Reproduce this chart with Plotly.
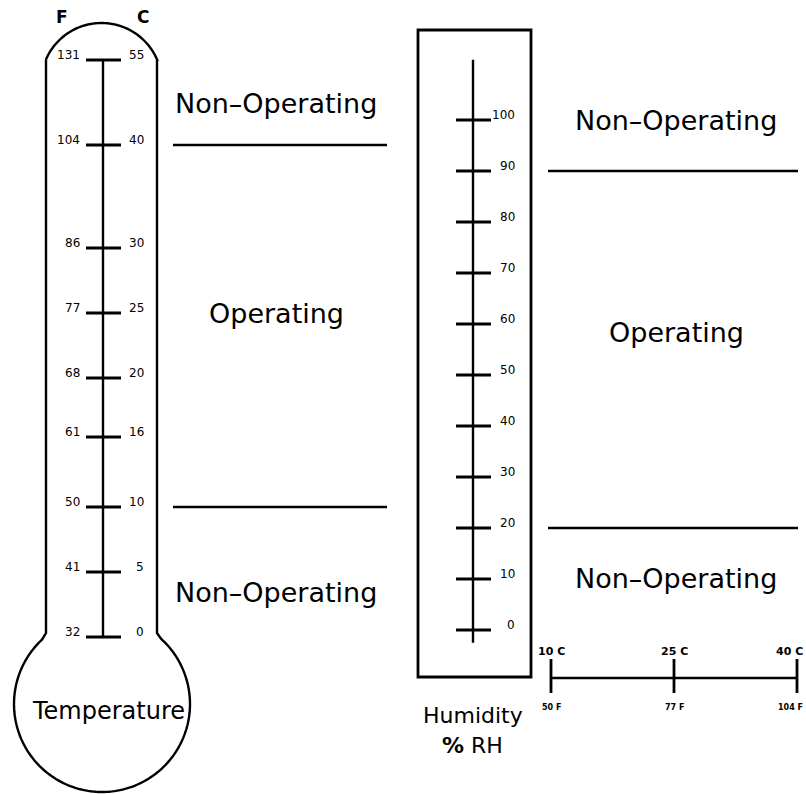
import numpy as np
import plotly.graph_objects as go

# ---------------- data ----------------
temp_c = [0, 5, 10, 16, 20, 25, 30, 40, 55]
temp_f = [32, 41, 50, 61, 68, 77, 86, 104, 131]
humidity_ticks = [0, 10, 20, 30, 40, 50, 60, 70, 80, 90, 100]
temp_operating_c = [10, 40]          # operating temperature limits (C)
humidity_operating = [20, 90]        # operating humidity limits (% RH)
range_c = [10, 25, 40]               # bottom temperature scale (C)
range_f = [50, 77, 104]              # bottom temperature scale (F)
zone_labels = ["Non\u2013Operating", "Operating", "Non\u2013Operating"]

# ---------------- drawing layout (pixels) ----------------
W, H = 806, 794
THERM_MARK_PX = [637, 572, 507, 437, 378, 313, 248, 145, 60]  # thermometer is not to scale
THERM_STEM_X = 103
TUBE_L, TUBE_R = 46, 157
FONT = "DejaVu Sans"
LW = 2.4

def therm_y(c):
    return THERM_MARK_PX[temp_c.index(c)]

# humidity axis (y2): 0 % -> 630 px, 100 % -> 120 px
h_per_px = 100 / (630 - 120)
y2_range = [0 - (H - 630) * h_per_px, 100 + 120 * h_per_px]
# bottom temperature scale axis (x2): 10 C -> 551 px, 40 C -> 797 px
c_per_px = 30 / (797 - 551)
x2_range = [10 - 551 * c_per_px, 40 + (W - 797) * c_per_px]

fig = go.Figure()

# ---------- thermometer outline ----------
cx_t, cy_t, r_t = 101.5, 83.5, 60.5
t_top = np.radians(np.linspace(157.1, 22.9, 60))
cx_b, cy_b, r_b = 102, 704, 88
t_bulb = np.radians(np.linspace(47.9, -227.0, 160))
pts = [(cx_t + r_t * np.cos(t), cy_t - r_t * np.sin(t)) for t in t_top]
pts += [(TUBE_R, 60), (TUBE_R, 633)]
pts += [(cx_b + r_b * np.cos(t), cy_b - r_b * np.sin(t)) for t in t_bulb]
pts += [(TUBE_L, 633), (TUBE_L, 60)]
path = "M " + " L ".join(f"{x:.2f},{y:.2f}" for x, y in pts)
fig.add_shape(type="path", path=path, xref="x", yref="y",
              line=dict(color="black", width=LW))

# thermometer stem
fig.add_trace(go.Scatter(x=[THERM_STEM_X, THERM_STEM_X],
                         y=[therm_y(max(temp_c)), therm_y(min(temp_c))],
                         mode="lines", line=dict(color="black", width=LW),
                         hoverinfo="skip"))
# thermometer marks
tx, ty = [], []
for c in temp_c:
    tx += [86, 121, None]
    ty += [therm_y(c), therm_y(c), None]
fig.add_trace(go.Scatter(x=tx, y=ty, mode="lines",
                         line=dict(color="black", width=2.8), hoverinfo="skip"))

annotations = []
for c, f in zip(temp_c, temp_f):
    annotations.append(dict(x=82, y=therm_y(c), xref="x", yref="y", text=str(f),
                            xanchor="right", yanchor="middle", yshift=5,
                            showarrow=False, font=dict(size=12, family=FONT, color="black")))
    annotations.append(dict(x=146, y=therm_y(c), xref="x", yref="y", text=str(c),
                            xanchor="right", yanchor="middle", yshift=5,
                            showarrow=False, font=dict(size=12, family=FONT, color="black")))

annotations.append(dict(x=62, y=17, xref="x", yref="y", text="<b>F</b>", showarrow=False,
                        font=dict(size=17, family=FONT, color="black")))
annotations.append(dict(x=143, y=17, xref="x", yref="y", text="<b>C</b>", showarrow=False,
                        font=dict(size=17, family=FONT, color="black")))
annotations.append(dict(x=108, y=711, xref="x", yref="y", text="Temperature", showarrow=False,
                        font=dict(size=24, family=FONT, color="black")))

# left operating limits
lx, ly = [], []
for c in temp_operating_c:
    lx += [173, 387, None]
    ly += [therm_y(c), therm_y(c), None]
fig.add_trace(go.Scatter(x=lx, y=ly, mode="lines",
                         line=dict(color="black", width=LW), hoverinfo="skip"))
for txt, yy in zip(zone_labels, [103, 313, 592]):
    annotations.append(dict(x=276, y=yy, xref="x", yref="y", text=txt, showarrow=False,
                            font=dict(size=27, family=FONT, color="black")))

# ---------- humidity gauge ----------
fig.add_shape(type="rect", x0=418, x1=531, y0=30, y1=677, xref="x", yref="y",
              line=dict(color="black", width=2.8))
fig.add_trace(go.Scatter(x=[473, 473], y=[111.8, -2.5], yaxis="y2", mode="lines",
                         line=dict(color="black", width=LW), hoverinfo="skip"))
hx, hy = [], []
for h in humidity_ticks:
    hx += [456, 491, None]
    hy += [h, h, None]
fig.add_trace(go.Scatter(x=hx, y=hy, yaxis="y2", mode="lines",
                         line=dict(color="black", width=2.8), hoverinfo="skip"))
for h in humidity_ticks:
    annotations.append(dict(x=517, y=h, xref="x", yref="y2", text=str(h),
                            xanchor="right", yanchor="middle", yshift=5, showarrow=False,
                            font=dict(size=12, family=FONT, color="black")))
annotations.append(dict(x=473, y=715, xref="x", yref="y", text="Humidity", showarrow=False,
                        font=dict(size=22, family=FONT, color="black")))
annotations.append(dict(x=472, y=745, xref="x", yref="y", text="<b>%</b> RH", showarrow=False,
                        font=dict(size=22, family=FONT, color="black")))

# right operating limits
rx, ry = [], []
for h in humidity_operating:
    rx += [548, 798, None]
    ry += [h, h, None]
fig.add_trace(go.Scatter(x=rx, y=ry, yaxis="y2", mode="lines",
                         line=dict(color="black", width=LW), hoverinfo="skip"))
for txt, yy in zip(zone_labels, [120, 332, 578]):
    annotations.append(dict(x=676, y=yy, xref="x", yref="y", text=txt, showarrow=False,
                            font=dict(size=27, family=FONT, color="black")))

# ---------- bottom temperature scale ----------
fig.add_trace(go.Scatter(x=[min(range_c), max(range_c)], y=[678, 678], xaxis="x2",
                         mode="lines", line=dict(color="black", width=LW), hoverinfo="skip"))
bx, by = [], []
for c in range_c:
    bx += [c, c, None]
    by += [659, 693, None]
fig.add_trace(go.Scatter(x=bx, y=by, xaxis="x2", mode="lines",
                         line=dict(color="black", width=2.8), hoverinfo="skip"))
for c, f in zip(range_c, range_f):
    anchor = "right" if c == max(range_c) else "center"
    shift = 8 if c == max(range_c) else 0
    annotations.append(dict(x=c, y=651, xref="x2", yref="y", text=f"<b>{c} C</b>",
                            xanchor=anchor, xshift=shift,
                            showarrow=False, font=dict(size=11, family=FONT, color="black")))
    annotations.append(dict(x=c, y=707, xref="x2", yref="y", text=f"<b>{f} F</b>",
                            xanchor=anchor, xshift=shift,
                            showarrow=False, font=dict(size=8, family=FONT, color="black")))

fig.update_layout(
    width=W, height=H,
    margin=dict(l=0, r=0, t=0, b=0),
    paper_bgcolor="white", plot_bgcolor="white",
    showlegend=False,
    xaxis=dict(range=[0, W], visible=False, fixedrange=True),
    yaxis=dict(range=[H, 0], visible=False, fixedrange=True),
    yaxis2=dict(range=y2_range, overlaying="y", visible=False, fixedrange=True),
    xaxis2=dict(range=x2_range, overlaying="x", visible=False, fixedrange=True),
    annotations=annotations,
)
fig.write_html("out.html", config={"displayModeBar": False},
               post_script="document.body.style.margin='0';document.body.style.overflow='hidden';")
